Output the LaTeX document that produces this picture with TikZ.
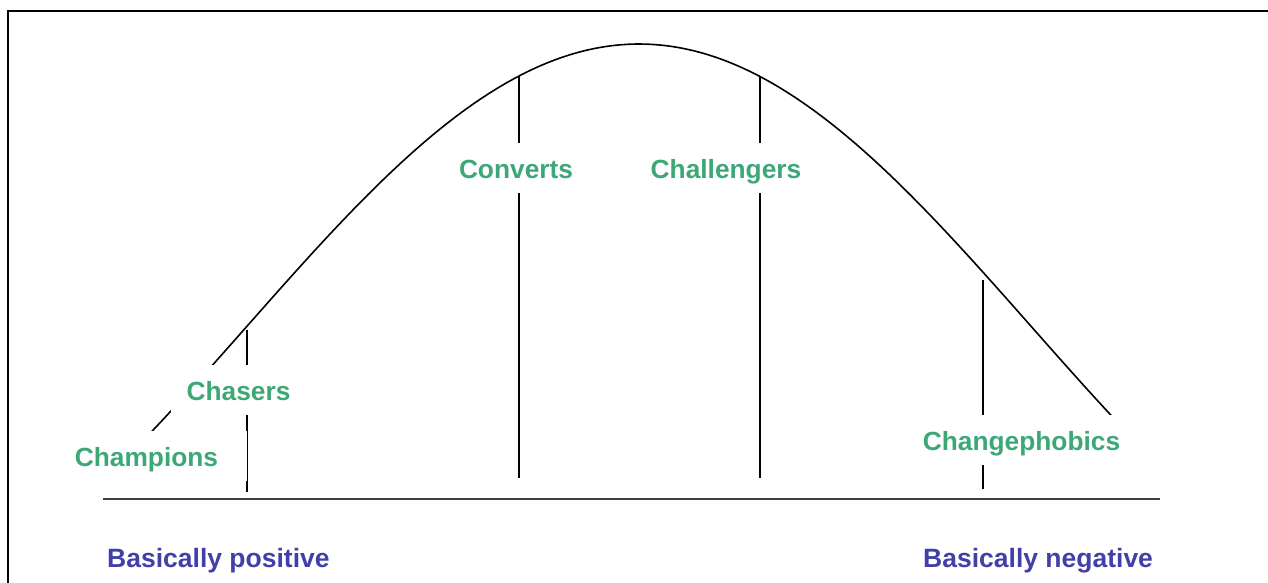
\documentclass[tikz,border=0pt]{standalone}
\usepackage{fontspec}
\setmainfont{Liberation Sans}
\usetikzlibrary{positioning,calc}
\definecolor{groupgreen}{RGB}{60,168,118}
\definecolor{poleblue}{RGB}{64,64,168}
\tikzstyle{group}=[fill=white,text=groupgreen,font=\fontsize{26.3}{30}\selectfont\bfseries,minimum height=50pt,inner xsep=16pt,inner ysep=0pt,text height=20pt,text depth=0pt]
\tikzstyle{pole}=[text=poleblue,font=\fontsize{26.5}{30}\selectfont\bfseries,inner sep=0pt,anchor=base west]
\tikzstyle{divider}=[line width=1.6pt]

\begin{document}
\begin{tikzpicture}[x=1pt,y=-1pt]
\useasboundingbox (0,0) rectangle (1268,583);
% frame, cut off at right and bottom
\draw[line width=2pt] (8,583) -- (8,11) -- (1268,11);
% the bell
\draw[line width=1.6pt] plot[domain=-490:475,samples=120] ({639+\x},{44+283*(1-cos(deg(\x/250)))});
% axis
\coordinate (axisL) at (103,499);
\coordinate (axisR) at (1160,499);
\draw[line width=1.4pt,black!75] (axisL) -- (axisR);
% dividers
\coordinate (chaTop) at (247,330);
\coordinate (chaBot) at (247,492);
\coordinate (conTop) at (519,76);
\coordinate (conBot) at (519,478);
\coordinate (chlTop) at (760,76);
\coordinate (chlBot) at (760,478);
\coordinate (phoTop) at (983,280);
\coordinate (phoBot) at (983,489);
\draw[divider] (chaTop) -- (chaBot);
\draw[divider] (conTop) -- (conBot);
\draw[divider] (chlTop) -- (chlBot);
\draw[divider] (phoTop) -- (phoBot);
% groups
\node[group,minimum width=201pt] (champions) at (146.5,456) {Champions};
\node[group] (chasers) at (238.5,390) {Chasers};
\node[group] (converts) at (516,168) {Converts};
\node[group] (challengers) at (726,168) {Challengers};
\node[group] (changephobics) at (1021.5,440) {Changephobics};
% poles
\node[pole] (positive) at (107,567) {Basically positive};
\node[pole] (negative) at (923,567) {Basically negative};
\end{tikzpicture}
\end{document}
